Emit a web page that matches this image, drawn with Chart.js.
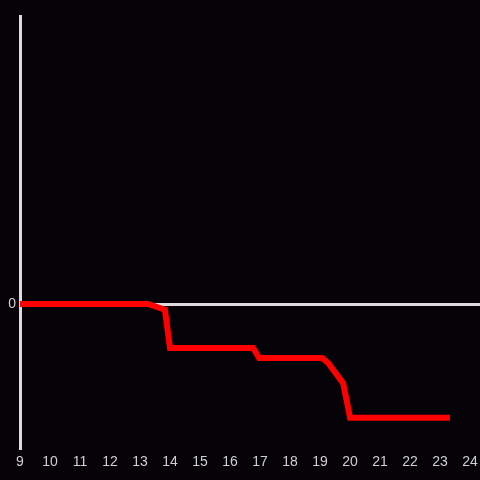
<!DOCTYPE html>
<html>
<head>
<meta charset="utf-8">
<script src="https://cdn.jsdelivr.net/npm/chart.js@4/dist/chart.umd.min.js"></script>
<style>
  html, body { margin: 0; padding: 0; background: #050308; }
  #wrap { width: 480px; height: 480px; }
</style>
</head>
<body>
<div id="wrap"><canvas id="chart" width="480" height="480"></canvas></div>
<script>
// Data
const hours = [9, 13.27, 13.83, 14.0, 16.77, 16.97, 19.07, 19.27, 19.77, 20.0, 23.33];
const values = [0, 0, -0.04, -0.306, -0.306, -0.375, -0.375, -0.41, -0.55, -0.79, -0.79];
const xTickMin = 9;
const xTickMax = 24.33;
const yMin = -1;
const yMax = 2;

const axisColor = '#dcdcdc';
const labelColor = '#d0d0d0';
const labelFont = { family: 'Liberation Sans', size: 14 };

const ctx = document.getElementById('chart');

new Chart(ctx, {
    type: 'line',
    data: {
        datasets: [{
            data: hours.map((h, i) => ({ x: h, y: values[i] })),
            borderColor: '#ff0000',
            borderWidth: 6,
            pointRadius: 0,
            tension: 0,
            fill: false
        }]
    },
    options: {
        responsive: false,
        animation: false,
        layout: { padding: { top: 16, right: 0, left: 0, bottom: 0 } },
        plugins: {
            legend: { display: false },
            tooltip: { enabled: false }
        },
        scales: {
            x: {
                type: 'linear',
                min: xTickMin,
                max: xTickMax,
                afterFit: (scale) => {
                    scale.height = 32;
                    scale.paddingLeft = 0;
                    scale.paddingRight = 0;
                },
                ticks: {
                    stepSize: 1,
                    includeBounds: false,
                    color: labelColor,
                    font: labelFont,
                    padding: 6,
                    maxRotation: 0,
                    autoSkip: false
                },
                grid: { display: false, drawTicks: false },
                border: { display: false }
            },
            y: {
                min: yMin,
                max: yMax,
                afterFit: (scale) => { scale.width = 20; },
                ticks: {
                    stepSize: 1,
                    color: labelColor,
                    font: labelFont,
                    padding: 4,
                    callback: (v) => (v === 0 ? '0' : '')
                },
                grid: {
                    drawTicks: false,
                    lineWidth: 3,
                    color: (c) => (c.tick && c.tick.value === 0 ? axisColor : 'rgba(0,0,0,0)')
                },
                border: { display: true, color: axisColor, width: 3 }
            }
        }
    }
});
</script>
</body>
</html>
